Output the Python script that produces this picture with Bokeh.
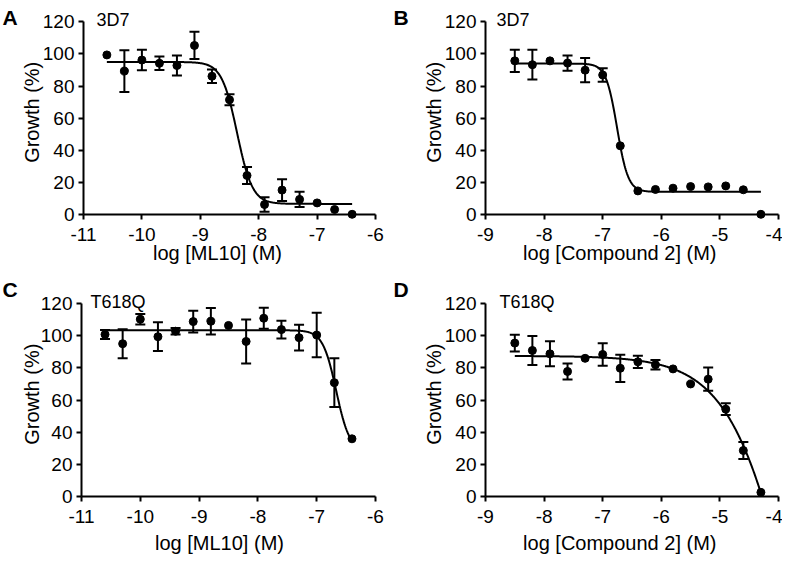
import numpy as np
from bokeh.plotting import figure
from bokeh.models import Range1d, FixedTicker, Whisker, TeeHead, ColumnDataSource, Label
from bokeh.layouts import column, row
from bokeh.embed import file_html
from bokeh.resources import INLINE

# ---------------- data ----------------
ml10_log = [-10.6, -10.3, -10.0, -9.7, -9.4, -9.1, -8.8, -8.5, -8.2, -7.9, -7.6, -7.3, -7.0, -6.7, -6.4]
cpd2_log = [-8.5, -8.2, -7.9, -7.6, -7.3, -7.0, -6.7, -6.4, -6.1, -5.8, -5.5, -5.2, -4.9, -4.6, -4.3]

a_growth = [99.4, 89.3, 96.2, 94.2, 92.8, 105.3, 86.1, 71.4, 24.2, 6.1, 15.1, 9.3, 7.1, 3.0, 0.0]
a_err = [0, 13.0, 6.4, 4.2, 6.3, 8.5, 4.2, 3.4, 5.3, 4.5, 6.8, 4.7, 0, 0, 0]

b_growth = [95.7, 93.3, 95.7, 94.3, 89.9, 86.9, 42.7, 14.6, 15.5, 16.3, 17.3, 17.1, 17.7, 15.3, 0.0]
b_err = [7.0, 9.3, 0, 4.8, 7.6, 4.2, 0, 0, 0, 0, 0, 0, 0, 0, 0]

c_growth = [100.9, 95.1, 110.4, 99.5, 102.9, 108.9, 109.1, 106.5, 96.5, 111.0, 103.9, 98.9, 100.5, 70.8, 35.8]
c_err = [2.8, 9.0, 3.3, 9.0, 2.0, 6.8, 8.3, 0, 13.7, 6.6, 5.5, 8.0, 13.9, 15.2, 0]

d_growth = [95.5, 90.9, 88.8, 77.8, 86.0, 88.4, 79.8, 83.8, 82.0, 79.4, 70.0, 73.0, 54.3, 28.5, 2.4]
d_err = [5.2, 9.0, 7.8, 5.0, 0, 7.0, 8.5, 3.8, 3.0, 0, 0, 7.3, 3.6, 5.3, 0]

# fitted dose-response curves: top, bottom, logIC50, hill slope
a_fit = (95.0, 6.5, -8.37, 3.3)
b_fit = (94.0, 14.0, -6.755, 4.6)
c_fit = (103.5, 28.0, -6.668, 3.8)
d_fit = (87.5, -300.0, -3.57, 0.75)

ml10_ticks = [-11, -10, -9, -8, -7, -6]
ml10_tick_labels = ["-11", "-10", "-9", "-8", "-7", "-6"]
cpd2_ticks = [-9, -8, -7, -6, -5, -4]
cpd2_tick_labels = ["-9", "-8", "-7", "-6", "-5", "-4"]
y_ticks = [0, 20, 40, 60, 80, 100, 120]

FONT = "Liberation Sans"
TICK_FS = "19px"
LAB_FS = "20px"


def panel(W, H, geom, letter, strain, xs, ys, errs, fit, xticks, xtick_labels, xlabel, text_pos):
    # geom: pixel positions of the axes inside the cell (left, right, top(120), bottom(0))
    axl, axr, axt, axb = geom
    x_lo, x_hi = xticks[0], xticks[-1]
    ppx = (axr - axl) / (x_hi - x_lo)
    ppy = (axb - axt) / 120.0
    xr = Range1d(x_lo - axl / ppx, x_hi + (W - axr) / ppx)
    yr = Range1d(0 - (H - axb) / ppy, 120 + axt / ppy)

    def dx(px):
        return xr.start + px / ppx

    def dy(py):
        return yr.end - py / ppy

    p = figure(frame_width=W, frame_height=H, min_border=0, title=None,
               x_range=xr, y_range=yr, output_backend="svg", toolbar_location=None)
    p.outline_line_color = None
    p.xgrid.visible = False
    p.ygrid.visible = False

    for ax in (p.xaxis[0], p.yaxis[0]):
        ax.axis_line_width = 2
        ax.axis_line_color = "black"
        ax.major_tick_line_width = 2
        ax.major_tick_line_color = "black"
        ax.major_tick_out = 5
        ax.major_tick_in = 0
        ax.minor_tick_line_color = None
        ax.major_label_text_font = FONT
        ax.major_label_text_font_size = TICK_FS
        ax.major_label_text_color = "black"
    p.xaxis[0].ticker = FixedTicker(ticks=xticks)
    p.xaxis[0].major_label_overrides = {t: s for t, s in zip(xticks, xtick_labels)}
    p.xaxis[0].bounds = (x_lo, x_hi)
    p.xaxis[0].fixed_location = 0
    p.xaxis[0].major_label_standoff = 9
    p.yaxis[0].ticker = FixedTicker(ticks=y_ticks)
    p.yaxis[0].bounds = (0, 120)
    p.yaxis[0].fixed_location = x_lo
    p.yaxis[0].major_label_standoff = 4

    # fitted curve
    topv, botv, c, h = fit
    xc = np.linspace(min(xs), max(xs), 400)
    yc = botv + (topv - botv) / (1 + 10 ** ((xc - c) * h))
    p.line(xc, yc, line_color="black", line_width=2)

    # error bars (only where visible in the reference)
    eb = [(x, y, e) for x, y, e in zip(xs, ys, errs) if e > 0]
    src = ColumnDataSource(dict(base=[t[0] for t in eb],
                                lower=[t[1] - t[2] for t in eb],
                                upper=[t[1] + t[2] for t in eb]))
    w = Whisker(source=src, base="base", lower="lower", upper="upper",
                line_color="black", line_width=2,
                upper_head=TeeHead(size=10, line_width=2, line_color="black"),
                lower_head=TeeHead(size=10, line_width=2, line_color="black"))
    p.add_layout(w)

    p.scatter(xs, ys, size=8, color="black")

    (lx, ly), (sx, sy), (xlx, xly), (ylx, yly) = text_pos
    p.add_layout(Label(x=dx(lx), y=dy(ly), text=letter, text_color="black",
                       text_font=FONT, text_font_size="21px", text_font_style="bold",
                       text_baseline="alphabetic", text_align="left"))
    p.add_layout(Label(x=dx(sx), y=dy(sy), text=strain, text_color="black",
                       text_font=FONT, text_font_size="18px",
                       text_baseline="alphabetic", text_align="left"))
    p.add_layout(Label(x=dx(xlx), y=dy(xly), text=xlabel, text_color="black",
                       text_font=FONT, text_font_size=LAB_FS,
                       text_baseline="middle", text_align="center"))
    p.add_layout(Label(x=dx(ylx), y=dy(yly), text="Growth (%)", angle=np.pi / 2,
                       text_color="black", text_font=FONT, text_font_size=LAB_FS,
                       text_baseline="middle", text_align="center"))
    return p


W = 391
H1, H2 = 269, 287

pA = panel(W, H1, (83, 375, 21.4, 213.8), "A", "3D7", ml10_log, a_growth, a_err, a_fit,
           ml10_ticks, ml10_tick_labels, "log [ML10] (M)",
           ((2, 16.5), (96, 19.5), (217, 252.7), (31.4, 111.8)))
pB = panel(W, H1, (94, 387, 21.4, 213.8), "B", "3D7", cpd2_log, b_growth, b_err, b_fit,
           cpd2_ticks, cpd2_tick_labels, "log [Compound 2] (M)",
           ((2, 16.5), (105, 19.5), (228.3, 252.7), (42.1, 111.8)))
pC = panel(W, H2, (81, 375, 34.3, 226.7), "C", "T618Q", ml10_log, c_growth, c_err, c_fit,
           ml10_ticks, ml10_tick_labels, "log [ML10] (M)",
           ((2, 19.7), (90, 32.3), (219, 273), (31.4, 124.7)))
pD = panel(W, H2, (94, 387, 34.3, 226.7), "D", "T618Q", cpd2_log, d_growth, d_err, d_fit,
           cpd2_ticks, cpd2_tick_labels, "log [Compound 2] (M)",
           ((2, 19.7), (108, 32.3), (228.3, 273), (42.1, 124.7)))

layout = column(row(pA, pB), row(pC, pD))
open("out.html", "w").write(file_html(layout, INLINE))
